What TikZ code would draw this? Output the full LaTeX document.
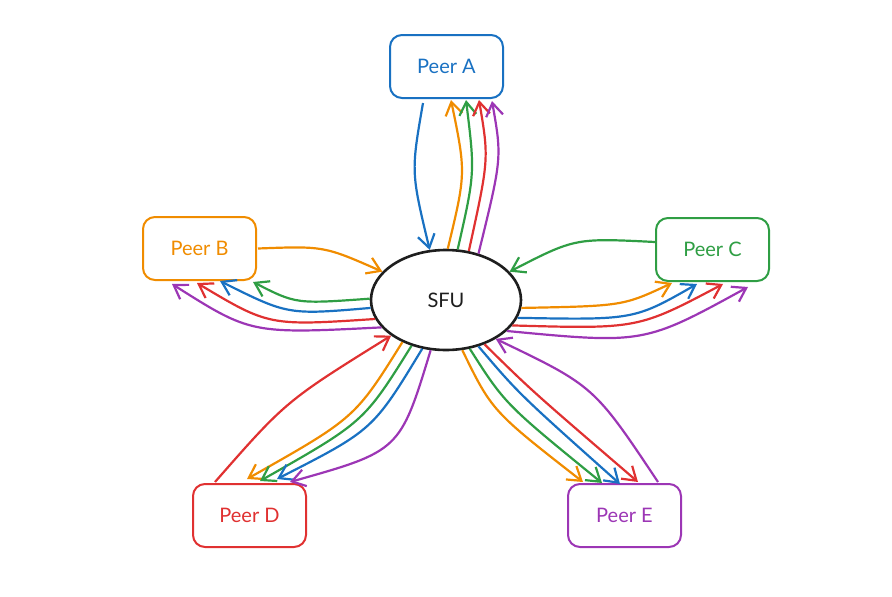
\documentclass[tikz,border=0pt]{standalone}
\usepackage{fontspec}
\setmainfont{Lato}
\usetikzlibrary{arrows.meta,shapes.geometric,positioning}

\definecolor{exblue}{HTML}{1971C2}
\definecolor{exorange}{HTML}{F08C00}
\definecolor{exgreen}{HTML}{2F9E44}
\definecolor{exred}{HTML}{E03131}
\definecolor{expurple}{HTML}{9C36B5}
\definecolor{exblack}{HTML}{1E1E1E}

\begin{document}
\begin{tikzpicture}[x=1pt,y=-1pt,
    peer/.style={draw=#1,text=#1,rounded corners=12pt,line width=2pt,
      minimum width=113pt,minimum height=63pt,font=\fontsize{20}{24}\selectfont},
    link/.style={line width=2.2pt,#1,-{Straight Barb[length=13pt,width=17pt]}}]
  \useasboundingbox (0,0) rectangle (892,597);

  % --- SFU in the middle ---
  \node[ellipse,draw=exblack,line width=2.6pt,minimum width=150pt,minimum height=100pt,
    inner sep=0pt,font=\fontsize{20}{24}\selectfont,text=exblack] (sfu) at (446,300) {SFU};

  % --- Peers around it ---
  \node[peer=exblue] (A) at (446.5,66.5) {Peer A};
  \node[peer=exorange] (B) at (199.5,248.5) {Peer B};
  \node[peer=exgreen] (C) at (712.5,249.5) {Peer C};
  \node[peer=exred] (D) at (249.5,515.5) {Peer D};
  \node[peer=expurple] (E) at (624.5,515.5) {Peer E};

  % --- Peer A ---
  \draw[link=exblue] ([xshift=-23.5pt,yshift=-4pt]A.south) .. controls (411,172) .. (sfu.108);
  \draw[link=exorange] (sfu.88) .. controls (466,173) .. ([xshift=4.5pt,yshift=-1pt]A.south);
  \draw[link=exgreen] (sfu.77) .. controls (475,173) .. ([xshift=19.5pt,yshift=-1pt]A.south);
  \draw[link=exred] (sfu.65) .. controls (489,159) .. ([xshift=32.5pt,yshift=-1pt]A.south);
  \draw[link=expurple] (sfu.55) .. controls (502,158) .. ([xshift=45.5pt,yshift=-2pt]A.south);

  % --- Peer B ---
  \draw[link=exorange] ([xshift=1pt]B.east) .. controls (324,246) .. (sfu.156);
  \draw[link=exgreen] (sfu.179) .. controls (296,304) .. ([xshift=-4pt,yshift=-1pt]B.south east);
  \draw[link=exblue] (sfu.186) .. controls (288,315) .. ([xshift=20.5pt]B.south);
  \draw[link=exred] (sfu.195) .. controls (269,326) .. ([xshift=-2.5pt,yshift=-2pt]B.south);
  \draw[link=expurple] (sfu.203) .. controls (251,334) .. ([xshift=-27.5pt,yshift=-3pt]B.south);

  % --- Peer C ---
  \draw[link=exgreen] ([yshift=7.5pt]C.west) .. controls (575,238) .. (sfu.24);
  \draw[link=exorange] (sfu.-6) .. controls (623,306) .. ([xshift=-40.5pt,yshift=-1pt]C.south);
  \draw[link=exblue] (sfu.-14) .. controls (634,320) .. ([xshift=-15.5pt,yshift=-2pt]C.south);
  \draw[link=exred] (sfu.-21) .. controls (638,329) .. ([xshift=10.5pt,yshift=-2pt]C.south);
  \draw[link=expurple] (sfu.-27) .. controls (644,344) .. ([xshift=35.5pt,yshift=-5pt]C.south);

  % --- Peer D ---
  \draw[link=exred] ([xshift=-34.5pt,yshift=1pt]D.north) .. controls (286,401) .. (sfu.-147);
  \draw[link=exorange] (sfu.-136) .. controls (355,418) .. ([xshift=-2.5pt,yshift=4pt]D.north);
  \draw[link=exgreen] (sfu.-127) .. controls (364,422) .. ([xshift=10.5pt,yshift=2pt]D.north);
  \draw[link=exblue] (sfu.-116) .. controls (373,430) .. ([xshift=27.5pt,yshift=4pt]D.north);
  \draw[link=expurple] (sfu.-107) .. controls (400,451) .. ([xshift=40.5pt,yshift=1pt]D.north);

  % --- Peer E ---
  \draw[link=expurple] ([xshift=33.5pt,yshift=1pt]E.north) .. controls (594,386) .. (sfu.-38);
  \draw[link=exorange] (sfu.-72) .. controls (492,411) .. ([xshift=-41.5pt,yshift=1pt]E.north);
  \draw[link=exgreen] (sfu.-64) .. controls (505,404) .. ([xshift=-22.5pt]E.north);
  \draw[link=exblue] (sfu.-55) .. controls (519,394) .. ([xshift=-4.5pt,yshift=-1pt]E.north);
  \draw[link=exred] (sfu.-49) .. controls (532,391) .. ([xshift=13.5pt,yshift=1pt]E.north);
\end{tikzpicture}
\end{document}
